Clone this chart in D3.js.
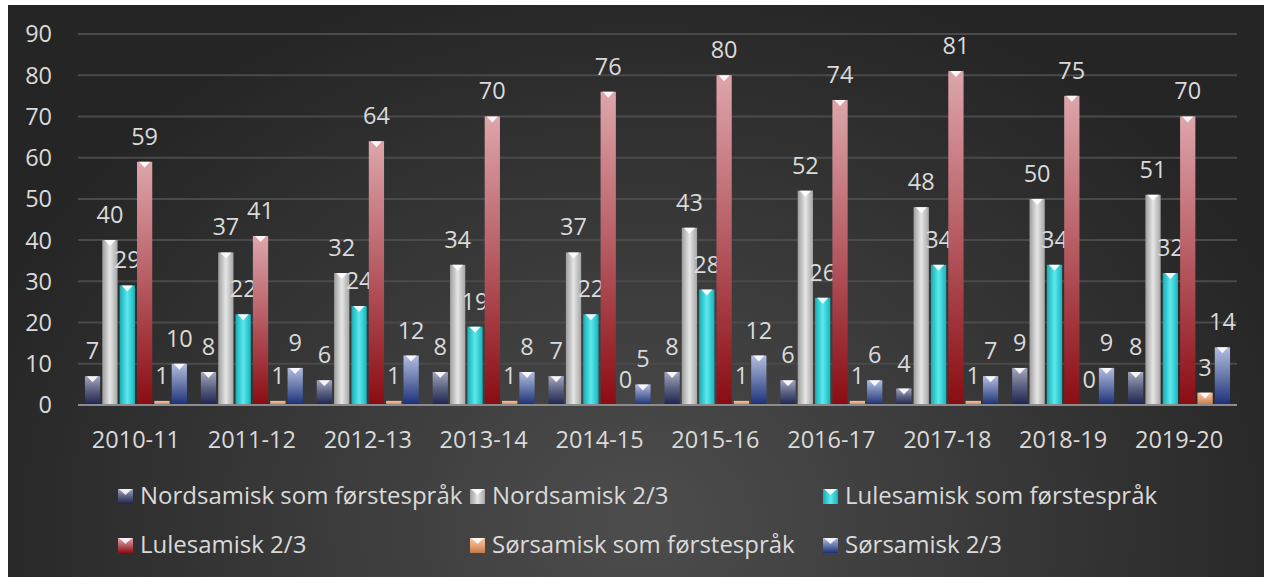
<!DOCTYPE html>
<html>
<head>
<meta charset="utf-8">
<script src="https://cdn.jsdelivr.net/npm/d3@7"></script>
<style>
  body { margin: 0; background: #fff; }
  svg { display: block; font-family: "Open Sans", sans-serif; }
</style>
</head>
<body>
<div id="my_dataviz"></div>
<script>
// data
var years = ["2010-11", "2011-12", "2012-13", "2013-14", "2014-15",
  "2015-16", "2016-17", "2017-18", "2018-19", "2019-20"];
var seriesNames = [
  "Nordsamisk som førstespråk",
  "Nordsamisk 2/3",
  "Lulesamisk som førstespråk",
  "Lulesamisk 2/3",
  "Sørsamisk som førstespråk",
  "Sørsamisk 2/3",
];
var nordFirst = [7, 8, 6, 8, 7, 8, 6, 4, 9, 8];
var nord23 = [40, 37, 32, 34, 37, 43, 52, 48, 50, 51];
var luleFirst = [29, 22, 24, 19, 22, 28, 26, 34, 34, 32];
var lule23 = [59, 41, 64, 70, 76, 80, 74, 81, 75, 70];
var sorFirst = [1, 1, 1, 1, 0, 1, 1, 1, 0, 3];
var sor23 = [10, 9, 12, 8, 5, 12, 6, 7, 9, 14];
var yTicks = [0, 10, 20, 30, 40, 50, 60, 70, 80, 90];

var allValues = [nordFirst, nord23, luleFirst, lule23, sorFirst, sor23];

var width = 1264, height = 577;

var svg = d3.select("#my_dataviz")
  .append("svg")
  .attr("width", width)
  .attr("height", height);

var defs = svg.append("defs");

// background gradient
var bg = defs.append("radialGradient")
  .attr("id", "bg")
  .attr("gradientUnits", "userSpaceOnUse")
  .attr("cx", 640).attr("cy", 520).attr("r", 700)
  .attr("gradientTransform", "translate(640,520) scale(1,0.8) translate(-640,-520)");
bg.append("stop").attr("offset", "0%").attr("stop-color", "#4d4d4d");
bg.append("stop").attr("offset", "100%").attr("stop-color", "#252525");

// bar gradients: [id, direction, stops]
var grads = [
  ["g0", "v", ["#a4a8bf", "#5a6080", "#1c2350"]],
  ["g1", "h", ["#9d9d9d", "#e6e6e6", "#a5a5a5"]],
  ["g2", "h", ["#14aeb6", "#5ce9ee", "#17b5bd"]],
  ["g3", "v", ["#dda6ab", "#b65a62", "#8a0c12"]],
  ["g4", "v", ["#f6c5a2", "#e8a378", "#c27a4a"]],
  ["g5", "v", ["#b2bde0", "#6878aa", "#1b2f78"]],
];
grads.forEach(function (g) {
  var lg = defs.append("linearGradient").attr("id", g[0]);
  if (g[1] === "v") lg.attr("x1", 0).attr("y1", 0).attr("x2", 0).attr("y2", 1);
  else lg.attr("x1", 0).attr("y1", 0).attr("x2", 1).attr("y2", 0);
  g[2].forEach(function (c, i) {
    lg.append("stop").attr("offset", (i * 50) + "%").attr("stop-color", c);
  });
});

svg.append("rect")
  .attr("x", 8).attr("y", 5)
  .attr("width", width - 8).attr("height", height - 5)
  .attr("fill", "url(#bg)");

var textColor = "#dadada";
var fontSize = "23.5px";

// scales
var x0 = d3.scaleBand().domain(years).range([78, 1237])
  .paddingInner(0.12).paddingOuter(0.06);
var x1 = d3.scaleBand().domain(d3.range(6)).range([0, x0.bandwidth()])
  .paddingInner(0.12).paddingOuter(0);
var y = d3.scaleLinear().domain([0, 90]).range([405, 34]);

// gridlines
svg.append("g")
  .selectAll("line")
  .data(yTicks.slice(1))
  .enter()
  .append("line")
  .attr("x1", 78).attr("x2", 1237)
  .attr("y1", function (d) { return y(d); })
  .attr("y2", function (d) { return y(d); })
  .attr("stroke", "#4a4a4a")
  .attr("stroke-width", 2);

// y axis labels
svg.append("g")
  .selectAll("text")
  .data(yTicks)
  .enter()
  .append("text")
  .attr("x", 52)
  .attr("y", function (d) { return y(d); })
  .attr("dy", "0.36em")
  .attr("text-anchor", "end")
  .attr("fill", textColor)
  .style("font-size", fontSize)
  .text(function (d) { return d; });

// bars
var groups = svg.append("g")
  .selectAll("g")
  .data(years)
  .enter()
  .append("g")
  .attr("transform", function (d) { return "translate(" + x0(d) + ",0)"; });

var bw = x1.bandwidth();

groups.each(function (yr, yi) {
  var g = d3.select(this);
  allValues.forEach(function (vals, si) {
    var v = vals[yi];
    var bx = x1(si);
    var h = y(0) - y(v);
    if (v > 0) {
      g.append("rect")
        .attr("x", bx)
        .attr("y", y(v))
        .attr("width", bw)
        .attr("height", h)
        .attr("fill", "url(#" + grads[si][0] + ")");
      // little bevel triangle on top
      if (h > 8) {
        g.append("path")
          .attr("d", "M" + (bx + 2) + "," + y(v) + "L" + (bx + bw - 2) + "," + y(v) +
            "L" + (bx + bw / 2) + "," + (y(v) + 6) + "Z")
          .attr("fill", "#ffffff")
          .attr("opacity", 0.9);
      }
    }
    g.append("text")
      .attr("x", bx + bw / 2)
      .attr("y", y(v) - 17)
      .attr("text-anchor", "middle")
      .attr("fill", textColor)
      .style("font-size", fontSize)
      .text(v);
  });
});

// zero axis line
svg.append("line")
  .attr("x1", 78).attr("x2", 1237)
  .attr("y1", 405).attr("y2", 405)
  .attr("stroke", "#8c8c8c")
  .attr("stroke-width", 2);

// x labels
svg.append("g")
  .selectAll("text")
  .data(years)
  .enter()
  .append("text")
  .attr("x", function (d) { return x0(d) + x0.bandwidth() / 2; })
  .attr("y", 448)
  .attr("text-anchor", "middle")
  .attr("fill", textColor)
  .style("font-size", fontSize)
  .text(function (d) { return d; });

// legend
var legX = [118, 470, 823];
var legY = [504, 553];
var legend = svg.append("g")
  .selectAll("g")
  .data(seriesNames)
  .enter()
  .append("g")
  .attr("transform", function (d, i) {
    return "translate(" + legX[i % 3] + "," + legY[Math.floor(i / 3)] + ")";
  });

legend.append("rect")
  .attr("x", 0).attr("y", -15)
  .attr("width", 15).attr("height", 15)
  .attr("fill", function (d, i) { return "url(#" + grads[i][0] + ")"; });
legend.append("path")
  .attr("d", "M1,-15L14,-15L7.5,-9Z")
  .attr("fill", "#ffffff")
  .attr("opacity", 0.85);
legend.append("text")
  .attr("x", 22)
  .attr("y", 0)
  .attr("fill", textColor)
  .style("font-size", "24px")
  .text(function (d) { return d; });
</script>
</body>
</html>
